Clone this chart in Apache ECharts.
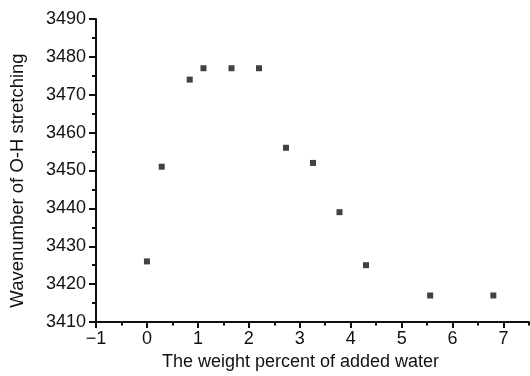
<!DOCTYPE html>
<html>
<head>
<meta charset="utf-8">
<script src="https://cdn.jsdelivr.net/npm/echarts@6/dist/echarts.min.js"></script>
<style>
html,body{margin:0;padding:0;background:#fff;}
#chart{width:530px;height:376px;}
</style>
</head>
<body>
<div id="chart"></div>
<script>
const waterPercent = [0, 0.29, 0.84, 1.11, 1.66, 2.20, 2.73, 3.26, 3.78, 4.30, 5.56, 6.80];
const wavenumber = [3426, 3451, 3474, 3477, 3477, 3477, 3456, 3452, 3439, 3425, 3417, 3417];
const xMajorTicks = [-1, 0, 1, 2, 3, 4, 5, 6, 7];
const xMinorTicks = [-0.5, 0.5, 1.5, 2.5, 3.5, 4.5, 5.5, 6.5, 7.5];
const xTitle = 'The weight percent of added water';
const yTitle = 'Wavenumber of O-H stretching';

const font = '"Liberation Sans", Arial, Helvetica, sans-serif';
const chart = echarts.init(document.getElementById('chart'));
chart.setOption({
  animation: false,
  backgroundColor: '#fff',
  grid: { left: 95, right: 1, top: 19, bottom: 50 },
  xAxis: [{
    type: 'value', min: -1, max: 7.5, interval: 1,
    name: xTitle, nameLocation: 'middle', nameGap: 31,
    nameTextStyle: { fontFamily: font, fontSize: 18, color: '#111', padding: [0, 24, 0, 0] },
    axisLine: { show: true, onZero: false, lineStyle: { color: '#111', width: 2 } },
    axisTick: { show: true, customValues: xMajorTicks, length: 6, lineStyle: { color: '#111', width: 2 } },
    axisLabel: { customValues: xMajorTicks, fontFamily: font, fontSize: 18, color: '#111', margin: 8,
      formatter: v => String(v).replace('-', '\u2212') },
    splitLine: { show: false }
  }, {
    type: 'value', min: -1, max: 7.5, position: 'bottom',
    axisLine: { show: false, onZero: false },
    axisTick: { show: true, customValues: xMinorTicks, length: 3.5, lineStyle: { color: '#111', width: 2 } },
    axisLabel: { show: false },
    splitLine: { show: false }
  }],
  yAxis: {
    type: 'value', min: 3410, max: 3490, interval: 10,
    name: yTitle, nameLocation: 'middle', nameGap: 69, nameRotate: 90,
    nameTextStyle: { fontFamily: font, fontSize: 18.5, color: '#111', padding: [0, 20, 0, 0] },
    axisLine: { show: true, onZero: false, lineStyle: { color: '#111', width: 2 } },
    axisTick: { show: true, length: 7, lineStyle: { color: '#111', width: 2 } },
    minorTick: { show: true, splitNumber: 2, length: 4, lineStyle: { color: '#111', width: 2 } },
    axisLabel: { fontFamily: font, fontSize: 18, color: '#111', margin: 10, formatter: v => String(v) },
    splitLine: { show: false }
  },
  series: [{
    type: 'scatter', xAxisIndex: 0,
    symbol: 'rect', symbolSize: 6,
    itemStyle: { color: '#111' },
    data: waterPercent.map((x, i) => [x, wavenumber[i]])
  }]
});
</script>
</body>
</html>
